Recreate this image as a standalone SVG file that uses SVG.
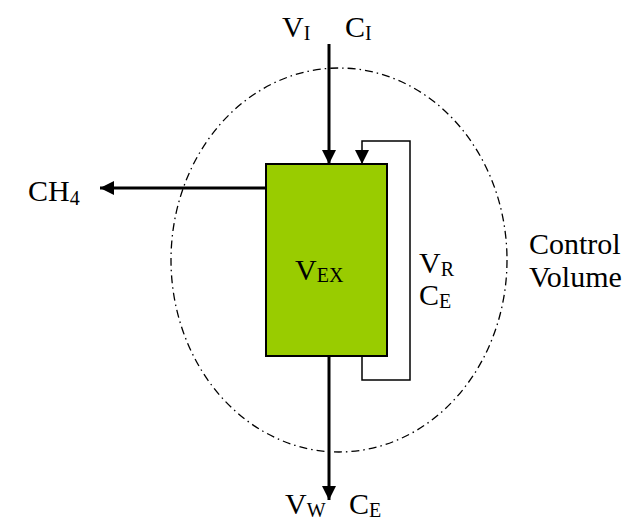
<svg xmlns="http://www.w3.org/2000/svg" width="630" height="522" viewBox="0 0 630 522">
<defs>
<style>
text{font-family:"Liberation Serif","Times New Roman",serif;font-size:30px;fill:#000}
.sub{font-size:20px}
.line{stroke:#000;fill:none}
</style>
<marker id="ahb" viewBox="0 0 10 10" refX="10" refY="5" markerWidth="16" markerHeight="14" markerUnits="userSpaceOnUse" orient="auto">
<path d="M0,0 L10,5 L0,10 z" fill="#000"/>
</marker>
</defs>
<rect width="630" height="522" fill="#fff"/>
<g id="control-volume">
<ellipse cx="339" cy="260" rx="168" ry="192" fill="none" stroke="#000" stroke-width="1.3" stroke-dasharray="8,4,1.5,4"/>
</g>
<g id="extractor">
<rect x="266" y="164" width="121" height="192" fill="#99CC00" stroke="#000" stroke-width="2"/>
<text x="295" y="280">V<tspan class="sub" dy="2">EX</tspan></text>
</g>
<g id="connectors">
<line class="line" x1="329" y1="44" x2="329" y2="164" stroke-width="3" marker-end="url(#ahb)"/>
<polyline class="line" points="362,356 362,380 410,380 410,141 362,141 362,164" stroke-width="1.5" marker-end="url(#ahb)"/>
<line class="line" x1="266" y1="188" x2="100" y2="188" stroke-width="3" marker-end="url(#ahb)"/>
<line class="line" x1="329" y1="356" x2="329" y2="500" stroke-width="3" marker-end="url(#ahb)"/>
</g>
<g id="labels">
<text x="282" y="37">V<tspan class="sub" dy="3">I</tspan></text>
<text x="345" y="37">C<tspan class="sub" dy="3">I</tspan></text>
<text x="28" y="201">CH<tspan class="sub" dy="4">4</tspan></text>
<text x="419" y="273">V<tspan class="sub" dy="3">R</tspan></text>
<text x="419" y="305">C<tspan class="sub" dy="3">E</tspan></text>
<text x="529" y="254">Control</text>
<text x="529" y="287">Volume</text>
<text x="285" y="514">V<tspan class="sub" dy="3">W</tspan></text>
<text x="349" y="514">C<tspan class="sub" dy="3">E</tspan></text>
</g>
</svg>
